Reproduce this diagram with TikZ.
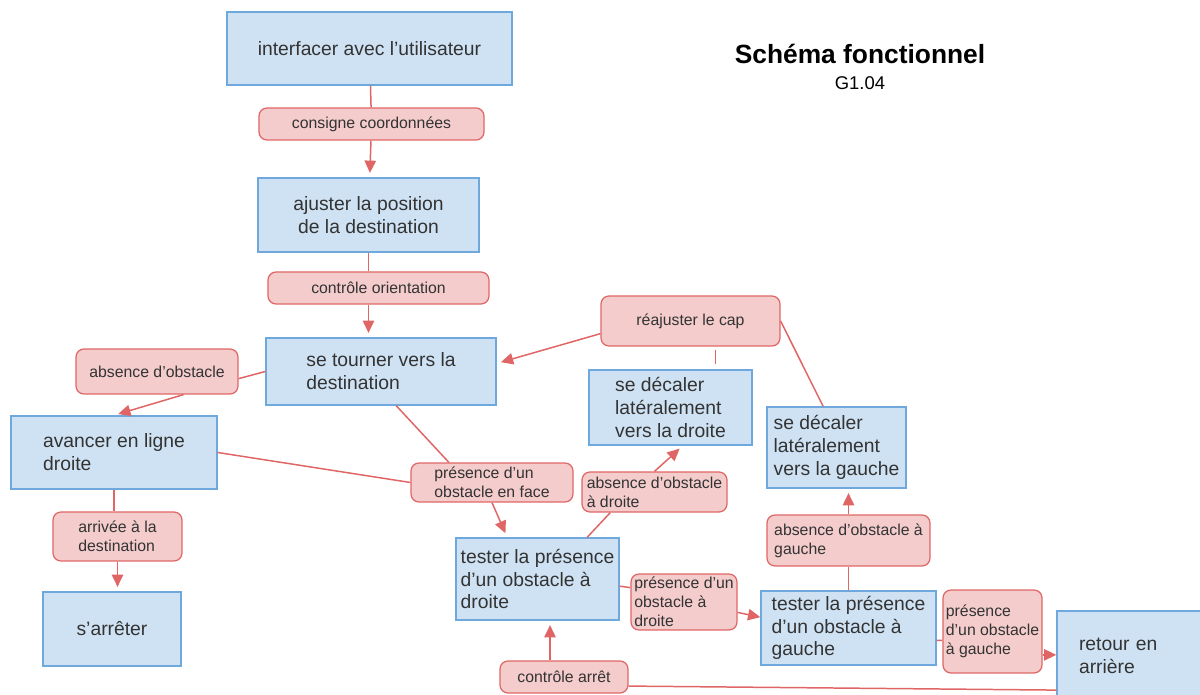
\documentclass[tikz,border=0pt]{standalone}
\usepackage{fontspec}
\setmainfont{Liberation Sans}
\usepackage{tikz}
\usetikzlibrary{calc}
\usetikzlibrary{positioning}
\usetikzlibrary{arrows.meta}
\definecolor{bleuFond}{HTML}{CFE2F3}
\definecolor{bleuBord}{HTML}{6FA8DC}
\definecolor{rougeFond}{HTML}{F4CCCC}
\definecolor{rougeBord}{HTML}{E06666}
\definecolor{texteGris}{HTML}{333333}
\tikzset{every picture/.style={semithick}}
\tikzset{fonction/.style={draw=bleuBord, fill=bleuFond, text=texteGris, line width=0.8pt, font=\fontsize{11}{13}\selectfont, align=left, inner sep=2pt}}
\tikzset{donnee/.style={draw=rougeBord, fill=rougeFond, text=texteGris, line width=0.7pt, rounded corners=4.5pt, font=\fontsize{9}{10.8}\selectfont, align=left, inner sep=1pt}}
\tikzset{lien/.style={draw=rougeBord, line width=0.85pt}}
\tikzset{fleche/.style={lien, ->, shorten >=2.5pt}}

\begin{document}
\begin{tikzpicture}[>={Triangle[length=7pt,width=6.5pt]}, x=0.02cm, y=-0.02cm]
    \useasboundingbox (0,0) rectangle (1200,695);
    % titre
    \node[font=\bfseries\fontsize{15}{18}\selectfont] (titre) at (860,54) {Schéma fonctionnel};
    \node[font=\fontsize{10.5}{12}\selectfont] (groupe) at (860,83) {G1.04};
    % fonctions
    \node[fonction, minimum width=5.7cm, minimum height=1.46cm, align=center] (interfacer) at (369.5,48.5) {interfacer avec l’utilisateur};
    \node[fonction, minimum width=4.42cm, minimum height=1.48cm, align=center] (ajuster) at (368.5,215) {ajuster la position\\de la destination};
    \node[fonction, minimum width=4.6cm, minimum height=1.34cm] (tourner) at (381,371.5) {se tourner vers la\\destination};
    \node[fonction, minimum width=4.12cm, minimum height=1.46cm] (avancer) at (114,452.5) {avancer en ligne\\droite};
    \node[fonction, minimum width=2.76cm, minimum height=1.48cm, align=center] (arreter) at (112,629) {s’arrêter};
    \node[fonction, minimum width=3.26cm, minimum height=1.5cm] (decalerD) at (670.5,407.5) {se décaler\\latéralement\\vers la droite};
    \node[fonction, minimum width=2.78cm, minimum height=1.62cm] (decalerG) at (836.5,447.5) {se décaler\\latéralement\\vers la gauche};
    \node[fonction, minimum width=3.26cm, minimum height=1.64cm] (testerD) at (537.5,579) {tester la présence\\d’un obstacle à\\droite};
    \node[fonction, minimum width=3.5cm, minimum height=1.48cm] (testerG) at (848.5,628) {tester la présence\\d’un obstacle à\\gauche};
    \node[fonction, text width=2.2cm, inner xsep=0.44cm, minimum height=1.78cm] (recul) at (1134,655.5) {retour en\\arrière};
    % donnees
    \node[donnee, minimum width=4.5cm, minimum height=0.64cm] (consigne) at (371.5,124) {consigne coordonnées};
    \node[donnee, minimum width=4.42cm, minimum height=0.64cm] (orientation) at (378.5,288) {contrôle orientation};
    \node[donnee, minimum width=3.58cm, minimum height=1cm] (cap) at (690.5,321) {réajuster le cap};
    \node[donnee, minimum width=3.24cm, minimum height=0.9cm] (absence) at (157,371.5) {absence d’obstacle};
    \node[donnee, minimum width=2.58cm, minimum height=0.98cm] (arrivee) at (117.5,536.5) {arrivée à la\\destination};
    \node[donnee, minimum width=3.24cm, minimum height=0.78cm] (face) at (492,482.5) {présence d’un\\obstacle en face};
    \node[donnee, minimum width=2.9cm, minimum height=0.8cm] (absenceD) at (654.5,492) {absence d’obstacle\\à droite};
    \node[donnee, minimum width=2.12cm, minimum height=1.12cm] (presenceD) at (684,602) {présence d’un\\obstacle à\\droite};
    \node[donnee, minimum width=3.26cm, minimum height=1.02cm] (absenceG) at (848.5,540.5) {absence d’obstacle à\\gauche};
    \node[donnee, minimum width=1.98cm, minimum height=1.66cm] (presenceG) at (992.5,631.5) {présence\\d’un obstacle\\à gauche};
    \node[donnee, minimum width=2.56cm, minimum height=0.64cm] (arret) at (564,677) {contrôle arrêt};
    % liens
    \draw[lien] (interfacer) -- (consigne);
    \draw[fleche] (consigne) -- (ajuster);
    \draw[lien] (ajuster.south) -- (ajuster.south |- orientation.north);
    \draw[fleche] (ajuster.south |- orientation.south) -- (ajuster.south |- tourner.north);
    \draw[lien] (tourner.west) -- (absence.-5);
    \draw[fleche] (absence.-41) -- (avancer.north);
    \draw[lien] (tourner.-66) -- (face.155);
    \draw[fleche] (face.south) -- (testerD.126);
    \draw[lien] (avancer.east) -- (face.west);
    \draw[lien] (avancer.south) -- (avancer.south |- arrivee.north);
    \draw[fleche] (arrivee.south) -- (arrivee.south |- arreter.north);
    \draw[lien] (testerD.40) -- (absenceD.-155);
    \draw[fleche] (absenceD.north) -- (decalerD.-72);
    \draw[fleche] (cap.-172) -- (tourner.4);
    \draw[lien, shorten <=3pt, shorten >=2pt] ([xshift=0.9cm]decalerD.north) -- ([xshift=0.9cm]decalerD.north |- cap.south);
    \draw[lien] (cap.east) -- (decalerG.108);
    \draw[lien] (testerD.-5) -- (presenceD.165);
    \draw[fleche, shorten >=0pt] (presenceD.-11) -- (testerG.173);
    \draw[lien] (testerG) -- (absenceG);
    \draw[fleche] (absenceG.north) -- (absenceG.north |- decalerG.south);
    \draw[lien] (testerG.-8) -- (presenceG.-170);
    \draw[fleche, shorten >=0pt] (presenceG.-25) -- (presenceG.-25 -| recul.west);
    \draw[lien] (arret.-8) -- (recul.-156);
    \draw[fleche] ([xshift=-0.28cm]arret.north) -- ([xshift=-0.28cm]arret.north |- testerD.south);
\end{tikzpicture}
\end{document}
